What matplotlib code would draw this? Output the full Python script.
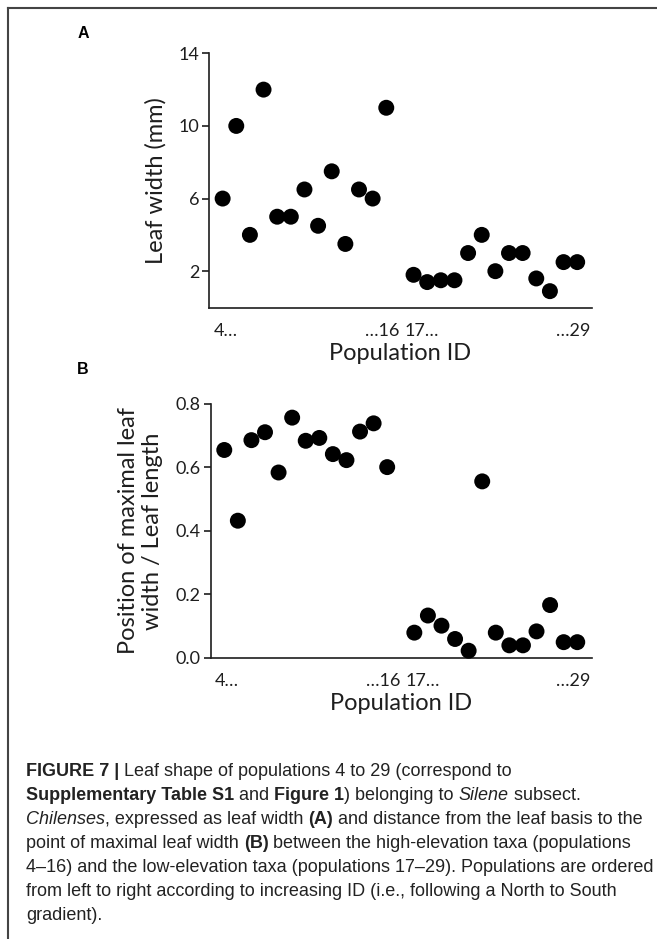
import numpy as np
import matplotlib
matplotlib.use("Agg")
from matplotlib import pyplot as plt
from matplotlib.lines import Line2D

# population IDs, high-elevation 4-16 and low-elevation 17-29
pop_ids = list(range(4, 30))
leaf_width = [6.0, 10.0, 4.0, 12.0, 5.0, 5.0, 6.5, 4.5, 7.5, 3.5, 6.5, 6.0, 11.0,
              1.8, 1.4, 1.5, 1.5, 3.0, 4.0, 2.0, 3.0, 3.0, 1.6, 0.9, 2.5, 2.5]
max_width_pos = [0.655, 0.432, 0.686, 0.711, 0.584, 0.757, 0.684, 0.693, 0.642, 0.623, 0.713, 0.739, 0.601,
                 0.079, 0.133, 0.101, 0.059, 0.022, 0.556, 0.079, 0.039, 0.039, 0.083, 0.166, 0.049, 0.049]
x_tick_labels = ["4\u2026", "\u202616", "17\u2026", "\u202629"]

W, H = 657, 939
plt.rcParams['font.family'] = ['Lato', 'DejaVu Sans']
INK = '#1e1e1e'

# one empty slot between the two groups
xpos = [i - 4 + (1 if i >= 17 else 0) for i in pop_ids]


def style_axes(ax):
    ax.spines['top'].set_visible(False)
    ax.spines['right'].set_visible(False)
    for s in ['left', 'bottom']:
        ax.spines[s].set_linewidth(1.2)
        ax.spines[s].set_color(INK)
    ax.set_xlim(-1.0, 27.05)
    ax.set_xticks([0.2, 11.7, 14.6, 25.7])
    ax.set_xticklabels(x_tick_labels)
    ax.tick_params(axis='x', length=0, pad=11, labelsize=13, colors=INK)
    ax.tick_params(axis='y', length=5, width=1.2, pad=2, labelsize=13, colors=INK)
    ax.set_xlabel("Population ID", fontsize=17, color=INK, labelpad=3)


fig = plt.figure(figsize=(W / 100, H / 100), dpi=100)

# panel A
axA = fig.add_axes([209 / W, 1 - 307.5 / H, (591.5 - 209) / W, (307.5 - 53.3) / H])
axA.scatter(xpos, leaf_width, s=132, color='black', edgecolors='none', zorder=3, clip_on=False)
axA.set_ylim(0, 14)
axA.set_yticks([2, 6, 10, 14])
style_axes(axA)
axA.set_ylabel("Leaf width (mm)", fontsize=17, color=INK)
axA.yaxis.set_label_coords(-0.11, 0.5)

# panel B
axB = fig.add_axes([210.7 / W, 1 - 657.7 / H, (591.5 - 210.7) / W, (657.7 - 404) / H])
axB.scatter(xpos, max_width_pos, s=132, color='black', edgecolors='none', zorder=3, clip_on=False)
axB.set_ylim(0, 0.8)
axB.set_yticks([0.0, 0.2, 0.4, 0.6, 0.8])
axB.set_yticklabels(["0.0", "0.2", "0.4", "0.6", "0.8"])
style_axes(axB)
axB.set_ylabel("Position of maximal leaf\nwidth / Leaf length", fontsize=17, color=INK,
               linespacing=1.2)
axB.yaxis.set_label_coords(-0.125, 0.5)

# panel letters
fig.text(83 / W, 1 - 33 / H, "A", fontsize=11.5, fontweight='bold', family='Liberation Sans',
         ha='center', va='center')
fig.text(83 / W, 1 - 370 / H, "B", fontsize=11.5, fontweight='bold', family='Liberation Sans',
         ha='center', va='center')

# frame lines (top and left only)
fig.add_artist(Line2D([8 / W, 8 / W], [0, 1 - 8 / H], color='#444444', lw=1.5))
fig.add_artist(Line2D([8 / W, 1], [1 - 8 / H, 1 - 8 / H], color='#444444', lw=1.5))

# caption with mixed styles
caption = [
    [("FIGURE 7 |", 'bold', 'normal'), (" Leaf shape of populations 4 to 29 (correspond to", 'normal', 'normal')],
    [("Supplementary Table S1", 'bold', 'normal'), (" and ", 'normal', 'normal'),
     ("Figure 1", 'bold', 'normal'), (") belonging to ", 'normal', 'normal'),
     ("Silene", 'normal', 'italic'), (" subsect.", 'normal', 'normal')],
    [("Chilenses", 'normal', 'italic'), (", expressed as leaf width ", 'normal', 'normal'),
     ("(A)", 'bold', 'normal'), (" and distance from the leaf basis to the", 'normal', 'normal')],
    [("point of maximal leaf width ", 'normal', 'normal'), ("(B)", 'bold', 'normal'),
     (" between the high-elevation taxa (populations", 'normal', 'normal')],
    [("4\u201316) and the low-elevation taxa (populations 17\u201329). Populations are ordered", 'normal', 'normal')],
    [("from left to right according to increasing ID (i.e., following a North to South", 'normal', 'normal')],
    [("gradient).", 'normal', 'normal')],
]
cap_font = 'Liberation Sans'
renderer = fig.canvas.get_renderer()

# size the caption so that the "from left to right..." line spans about 591 px
probe = fig.text(0, 0, caption[5][0][0], fontsize=12, family=cap_font)
cap_size = 12 * 591 / probe.get_window_extent(renderer).width
probe.remove()

for k, line in enumerate(caption):
    x = 26
    y = 771 + k * 24
    for txt, weight, style in line:
        t = fig.text(x / W, 1 - y / H, txt, fontsize=cap_size, fontweight=weight, fontstyle=style,
                     family=cap_font, color='#222222', ha='left', va='center')
        x += t.get_window_extent(renderer).width

fig.savefig("out.png", dpi=100)
